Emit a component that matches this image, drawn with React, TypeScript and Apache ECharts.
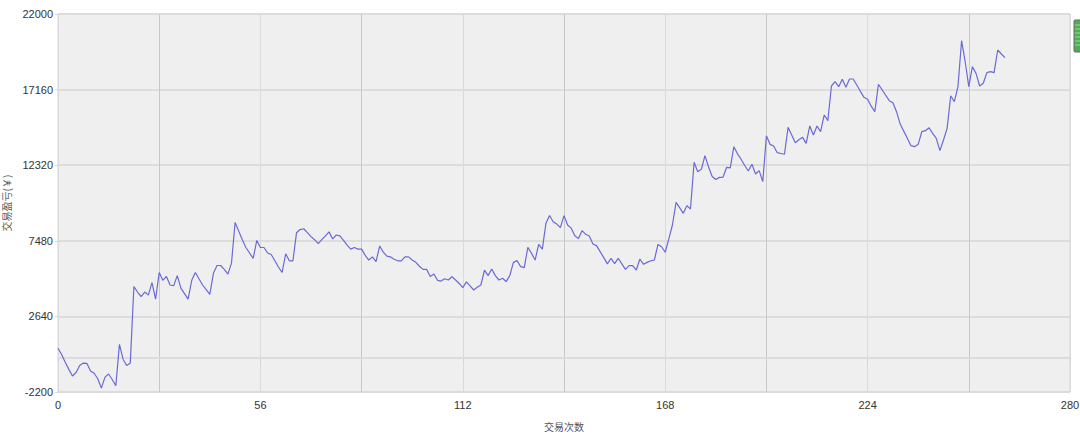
import React, { useEffect, useRef } from "react";
import * as echarts from "echarts";

const profitValues: number[] = [
  600, 200, -300, -750, -1175, -950, -500, -350, -370, -850,
  -1000, -1350, -1950, -1250, -1050, -1400, -1800, 850, -100, -500,
  -350, 4550, 4200, 3900, 4200, 4000, 4800, 3750, 5450, 4950,
  5200, 4650, 4600, 5250, 4450, 4100, 3750, 4950, 5450, 5050,
  4650, 4350, 4050, 5400, 5900, 5900, 5650, 5350, 6050, 8650,
  8100, 7550, 7050, 6700, 6350, 7500, 7050, 7050, 6700, 6600,
  6200, 5800, 5450, 6650, 6200, 6200, 8000, 8200, 8250, 8000,
  7750, 7550, 7300, 7550, 7800, 8050, 7600, 7850, 7800, 7500,
  7200, 6950, 7050, 6950, 6950, 6550, 6250, 6450, 6150, 7150,
  6750, 6500, 6450, 6300, 6200, 6200, 6450, 6450, 6250, 6100,
  5850, 5650, 5650, 5200, 5350, 4950, 4900, 5050, 4970, 5180,
  4970, 4750, 4480, 4850, 4600, 4330, 4500, 4650, 5600, 5250,
  5680, 5250, 4970, 5080, 4870, 5250, 6100, 6210, 5830, 5760,
  7060, 6680, 6250, 7250, 6950, 8600, 9100, 8700, 8550, 8320,
  9090, 8490, 8290, 7800, 7620, 8130, 7895, 7790, 7275, 7170,
  6785, 6400, 6000, 6360, 6020, 6360, 6000, 5655, 5890, 5890,
  5610, 6315, 5975, 6100, 6200, 6250, 7250, 7100, 6745, 7600,
  8490, 9945, 9600, 9240, 9730, 9515, 12505, 11905, 12055, 12930,
  12200, 11600, 11400, 11540, 11550, 12185, 12150, 13505, 13050, 12700,
  12300, 11950, 12380, 11755, 11970, 11265, 14210, 13655, 13550, 13120,
  13070, 13020, 14745, 14250, 13760, 13950, 14105, 13720, 14830, 14255,
  14830, 14465, 15535, 15170, 17390, 17665, 17345, 17820, 17310, 17840,
  17840, 17455, 17050, 16665, 16540, 16100, 15745, 17500, 17150, 16800,
  16450, 16320, 15745, 14970, 14500, 14050, 13570, 13505, 13655, 14465,
  14530, 14720, 14360, 14040, 13250, 13935, 14680, 16770, 16385, 17345,
  20290, 18945, 17345, 18625, 18200, 17390, 17565, 18245, 18310, 18245,
  19695, 19440, 19205,
];

const xAxisMin = 0;
const xAxisMax = 280;
const xAxisStep = 28;
const xLabelStep = 56;
const yAxisMin = -2200;
const yAxisMax = 22000;
const yAxisStep = 4840;

export default function App() {
  const ref = useRef<HTMLDivElement>(null);

  useEffect(() => {
    if (!ref.current) return;
    const chart = echarts.init(ref.current, undefined, { renderer: "svg" });
    const data = profitValues.map((v, i) => [i, v]);
    const labelFont = "'Liberation Sans', Arial, sans-serif";
    const cjkFont = "'Noto Sans CJK SC', sans-serif";

    chart.setOption({
      animation: false,
      grid: {
        left: 58,
        right: 10,
        top: 14,
        bottom: 45,
        containLabel: false,
        outerBoundsMode: "none",
        show: true,
        backgroundColor: "#efefef",
        borderColor: "#d6d6d6",
        borderWidth: 1,
      },
      xAxis: {
        type: "value",
        min: xAxisMin,
        max: xAxisMax,
        interval: xAxisStep,
        name: "交易次数",
        nameLocation: "middle",
        nameGap: 29,
        nameTextStyle: { color: "#555", fontSize: 10, fontFamily: cjkFont },
        axisLine: { show: true, lineStyle: { color: "#d6d6d6" } },
        axisTick: { show: true, length: 4, lineStyle: { color: "#d0d0d0" } },
        axisLabel: {
          formatter: (v: number) => (v % xLabelStep === 0 ? String(v) : ""),
          color: "#333",
          fontSize: 11,
          margin: 7,
          fontFamily: labelFont,
        },
        splitLine: {
          show: true,
          lineStyle: { color: ["#dadada", "#c8c8c8"], width: 1 },
        },
      },
      yAxis: {
        type: "value",
        min: yAxisMin,
        max: yAxisMax,
        interval: yAxisStep,
        name: "交易盈亏(￥)",
        nameLocation: "middle",
        nameGap: 46,
        nameRotate: 90,
        nameTextStyle: { color: "#555", fontSize: 10, fontFamily: cjkFont },
        axisLine: { show: false },
        axisTick: { show: true, length: 3, lineStyle: { color: "#d6d6d6" } },
        axisLabel: {
          formatter: (v: number) => String(v),
          color: "#333",
          fontSize: 11,
          margin: 5,
          fontFamily: labelFont,
        },
        splitLine: {
          show: true,
          lineStyle: { color: "#dcdcdc", width: 2 },
        },
      },
      graphic: [
        {
          type: "rect",
          shape: { x: 1074, y: 20, width: 8, height: 32, r: 1 },
          style: { fill: "#4caf50", stroke: "#6a6a6a", lineWidth: 1 },
        },
        ...[25, 29, 33, 37, 41, 45].map((y) => ({
          type: "line",
          shape: { x1: 1075, y1: y, x2: 1082, y2: y },
          style: { stroke: "#9edc9e", lineWidth: 1 },
        })),
      ],
      series: [
        {
          type: "line",
          data,
          showSymbol: false,
          symbol: "none",
          lineStyle: { color: "#6a6ad6", width: 1.2 },
          z: 3,
          markLine: {
            silent: true,
            symbol: "none",
            z: 1,
            label: { show: false },
            lineStyle: { color: "#dcdcdc", type: "solid", width: 2 },
            data: [{ yAxis: 0 }],
          },
        },
      ],
    });

    return () => chart.dispose();
  }, []);

  return (
    <div
      ref={ref}
      style={{ position: "absolute", left: 0, top: 0, width: 1080, height: 437 }}
    />
  );
}
